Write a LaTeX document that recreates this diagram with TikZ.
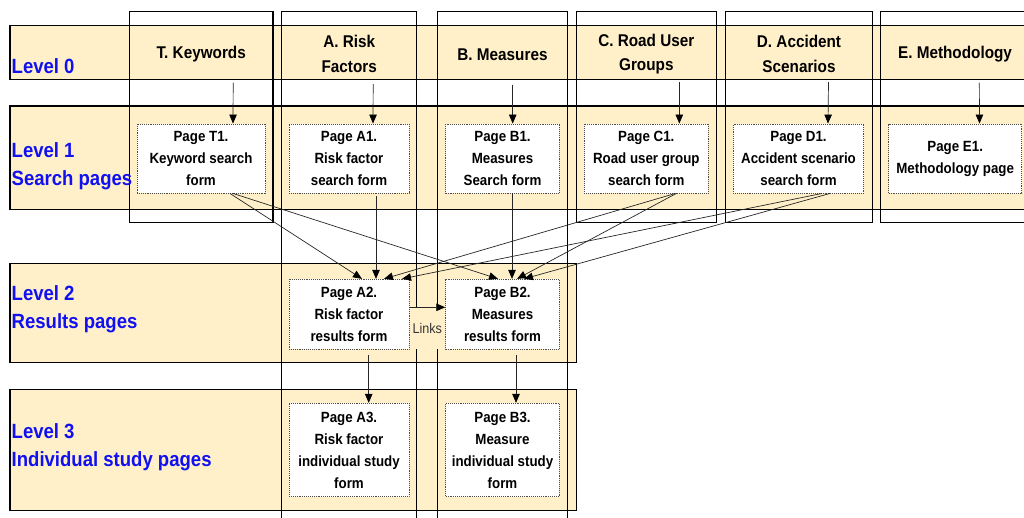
\documentclass[tikz,border=0pt]{standalone}
\usepackage{fontspec}
\setmainfont{Liberation Sans}[FakeStretch=0.9]
\usetikzlibrary{calc}
\usetikzlibrary{arrows.meta}

\definecolor{bandtan}{RGB}{255,240,201}
\definecolor{lvlblue}{RGB}{16,16,240}

\tikzset{
  band/.style={fill=bandtan,draw=black,line width=1.2pt},
  col/.style={draw=black,line width=1.2pt},
  hdr/.style={inner sep=0pt,align=center,minimum height=53.6pt,font=\fontsize{17}{24.4}\selectfont\bfseries},
  lvl/.style={anchor=north west,inner sep=0pt,align=left,text=lvlblue,font=\fontsize{20.6}{28}\selectfont\bfseries},
  page/.style={draw=black!70,densely dotted,line width=0.9pt,fill=white,inner sep=0pt,align=center,minimum height=69pt,font=\fontsize{14.8}{22}\selectfont\bfseries},
  link/.style={draw=black!85,line width=0.7pt,-{Triangle[length=9pt,width=7.5pt,color=black]}},
}

\begin{document}
\begin{tikzpicture}[x=1pt,y=-1pt]
\useasboundingbox (0,0) rectangle (1024,517);
\clip (0,0) rectangle (1024,517);

% level bands
\draw[band] (10,25.7) rectangle (1030,79.3);
\draw[band] (10,106) rectangle (1030,209.3);
\draw[band] (10,263.3) rectangle (576.3,362.3);
\draw[band] (10,389.3) rectangle (576.3,510.7);

% columns
\draw[col] (129.3,11.7) rectangle (273,222.7);
\draw[col] (281.7,11.7) rectangle (416.7,530);
\draw[col] (437.3,11.7) rectangle (567.7,530);
\draw[col] (576.3,11.7) rectangle (716.3,222.7);
\draw[col] (725.7,11.7) rectangle (872.3,222.7);
\draw[col] (880.3,11.7) rectangle (1030,222.7);

\node[lvl] (lv0) at (11.5,58.3) {Level 0};
\node[lvl] (lv1) at (11.5,142.7) {Level 1\\Search pages};
\node[lvl] (lv2) at (11.5,285) {Level 2\\Results pages};
\node[lvl] (lv3) at (11.5,423.3) {Level 3\\Individual study pages};

\node[hdr] (hT) at (201.2,54.5) {T. Keywords};
\node[hdr] (hA) at (349.2,54) {A. Risk\\Factors};
\node[hdr] (hB) at (502.5,54.5) {B. Measures};
\node[hdr] (hC) at (646.3,54) {C. Road User\\Groups};
\node[hdr] (hD) at (799,54) {D. Accident\\Scenarios};
\node[hdr] (hE) at (955,54.5) {E. Methodology};

\node[fill=bandtan,inner sep=0pt,minimum width=36.7pt,minimum height=41.3pt,
  font=\fontsize{14}{16}\selectfont,text=black!80] (links) at (427.3,328.7) {Links};

\node[page,minimum width=128pt] (T1) at (201,158.5) {Page T1.\\Keyword search\\form};
\node[page,minimum width=120pt] (A1) at (349,158.5) {Page A1.\\Risk factor\\search form};
\node[page,minimum width=113.6pt] (B1) at (502.5,158.5) {Page B1.\\Measures\\Search form};
\node[page,minimum width=124pt] (C1) at (646.3,158.5) {Page C1.\\Road user group\\search form};
\node[page,minimum width=130.4pt] (D1) at (798.5,158.5) {Page D1.\\Accident scenario\\search form};
\node[page,minimum width=133pt] (E1) at (955.2,158.5) {Page E1.\\Methodology page};

\node[page,minimum width=120pt,minimum height=70pt] (A2) at (349,314.3) {Page A2.\\Risk factor\\results form};
\node[page,minimum width=113.6pt,minimum height=70pt] (B2) at (502.5,314.3) {Page B2.\\Measures\\results form};
\node[page,minimum width=120pt,minimum height=93.4pt] (A3) at (349,450) {Page A3.\\Risk factor\\individual study\\form};
\node[page,minimum width=113.6pt,minimum height=93.4pt] (B3) at (502.5,450) {Page B3.\\Measure\\individual study\\form};

% level 0 -> level 1
\draw[link,shorten <=1pt] ([xshift=32pt]hT.south) -- ([xshift=32pt]T1.north);
\draw[link,shorten <=3pt] ([xshift=24pt]hA.south) -- ([xshift=24pt]A1.north);
\draw[link,shorten <=3pt] ([xshift=10.2pt]hB.south) -- ([xshift=10.2pt]B1.north);
\draw[link,shorten <=1pt] ([xshift=33pt]hC.south) -- ([xshift=33pt]C1.north);
\draw[link,shorten <=1pt] ([xshift=29.5pt]hD.south) -- ([xshift=29.5pt]D1.north);
\draw[link,shorten <=1pt] ([xshift=24.3pt]hE.south) -- ([xshift=24.3pt]E1.north);

% level 1 -> level 2
\draw[link] ([xshift=29pt]T1.south) -- ([xshift=13pt]A2.north);
\draw[link] ([xshift=32pt]T1.south) -- ([xshift=-4.5pt]B2.north);
\draw[link,shorten <=3pt] ([xshift=27pt]A1.south) -- ([xshift=27pt]A2.north);
\draw[link] ([xshift=9.5pt]B1.south) -- ([xshift=9.5pt]B2.north);
\draw[link] ([xshift=29pt]C1.south) -- ([xshift=35pt]A2.north);
\draw[link] ([xshift=30pt]C1.south) -- ([xshift=14.5pt]B2.north);
\draw[link] ([xshift=23.5pt]D1.south) -- ([xshift=53pt]A2.north);
\draw[link] ([xshift=31.5pt]D1.south) -- ([xshift=21.5pt]B2.north);

% level 2 -> level 3
\draw[link] ([yshift=7pt]A2.east) -- ([yshift=7pt]B2.west);
\draw[link,shorten <=5pt] ([xshift=19.7pt]A2.south) -- ([xshift=19.7pt]A3.north);
\draw[link,shorten <=5pt] ([xshift=13.5pt]B2.south) -- ([xshift=13.5pt]B3.north);

\end{tikzpicture}
\end{document}
